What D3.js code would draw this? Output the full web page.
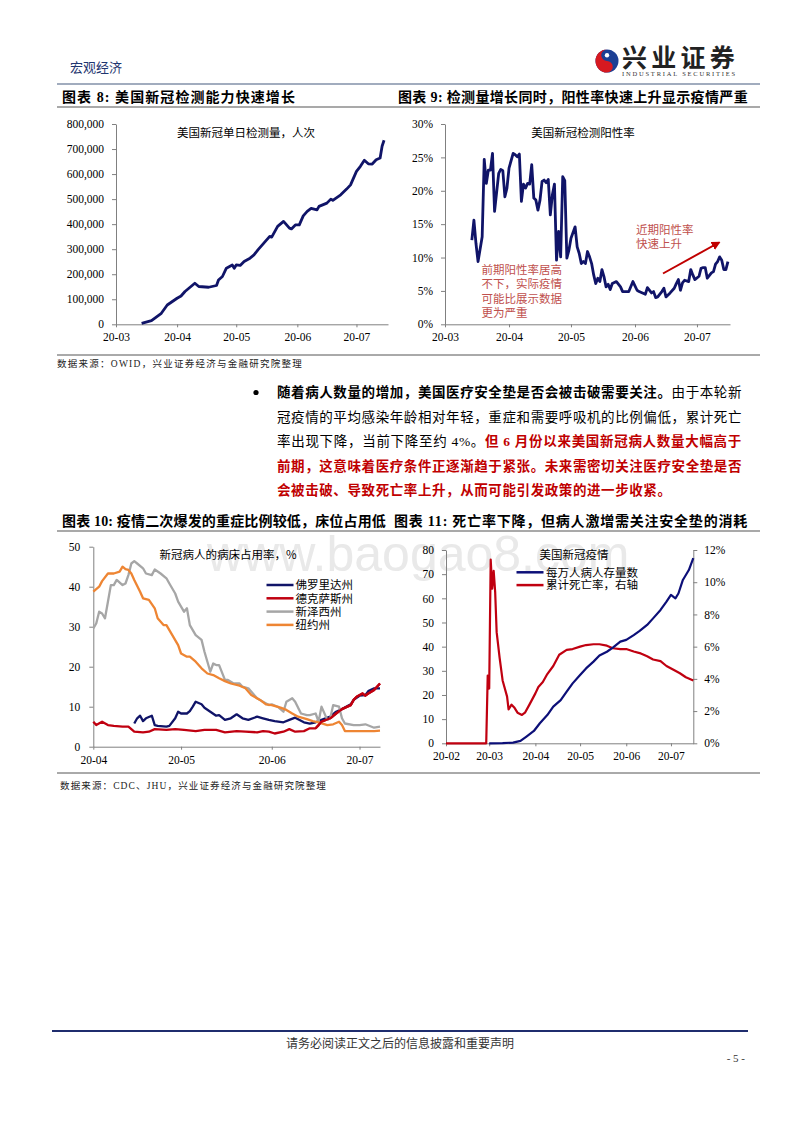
<!DOCTYPE html>
<html>
<head>
<meta charset="utf-8">
<script src="https://cdn.jsdelivr.net/npm/d3@7"></script>
<style>body{margin:0;background:#fff}</style>
</head>
<body>
<script>
// ---- data ----
var months8 = ["03-01","04-01","05-01","06-01","07-01"];
var dailyTests = [["03-14",4000],["03-19",15000],["03-24",44000],["03-27",77000],["04-01",104000],["04-03",113000],["04-05",131000],["04-10",164000],["04-12",151000],["04-17",148000],["04-21",155000],["04-22",177000],["04-24",191000],["04-26",224000],["04-29",237000],["04-30",224000],["05-01",237000],["05-03",235000],["05-05",251000],["05-08",264000],["05-10",277000],["05-12",297000],["05-15",324000],["05-18",351000],["05-19",348000],["05-22",391000],["05-25",411000],["05-28",384000],["05-29",381000],["05-31",397000],["06-02",397000],["06-04",433000],["06-06",451000],["06-08",463000],["06-11",457000],["06-12",471000],["06-16",484000],["06-18",500000],["06-19",495000],["06-23",517000],["06-26",540000],["06-28",557000],["07-01",611000],["07-03",631000],["07-05",655000],["07-07",641000],["07-09",640000],["07-11",657000],["07-13",664000],["07-14",711000],["07-15",735000]];
var testTicks = [0,100000,200000,300000,400000,500000,600000,700000,800000];

var positiveRate = [["03-14",12.6],["03-15",15.6],["03-16",12.1],["03-17",9.4],["03-19",13.1],["03-20",24.7],["03-21",21.1],["03-22",23.1],["03-23",23.1],["03-24",25.6],["03-25",16.9],["03-27",22.6],["03-28",23.2],["03-29",23.0],["03-30",19.1],["03-31",20.4],["04-01",23.4],["04-03",25.6],["04-04",25.4],["04-05",25.1],["04-06",25.5],["04-07",18.4],["04-08",21.0],["04-09",20.4],["04-10",21.1],["04-11",21.0],["04-12",23.9],["04-13",18.9],["04-14",18.6],["04-15",17.1],["04-16",18.6],["04-17",21.4],["04-18",21.6],["04-19",21.2],["04-20",21.7],["04-21",16.4],["04-22",19.4],["04-23",21.0],["04-24",9.6],["04-25",13.9],["04-26",10.1],["04-27",22.1],["04-28",21.5],["04-29",9.9],["04-30",11.1],["05-01",12.9],["05-03",14.6],["05-04",11.6],["05-05",10.6],["05-06",9.1],["05-07",9.4],["05-08",9.1],["05-09",10.9],["05-10",10.1],["05-11",9.1],["05-12",7.4],["05-13",6.1],["05-14",6.9],["05-15",6.4],["05-16",8.2],["05-17",7.1],["05-18",5.6],["05-19",6.0],["05-20",5.2],["05-21",6.1],["05-23",6.4],["05-25",5.6],["05-26",4.9],["05-29",4.9],["05-31",6.4],["06-02",5.1],["06-03",4.9],["06-06",4.5],["06-07",5.5],["06-09",4.7],["06-10",4.9],["06-11",4.0],["06-12",4.1],["06-14",4.9],["06-15",5.4],["06-16",4.1],["06-18",4.7],["06-20",5.4],["06-21",6.1],["06-22",6.7],["06-23",5.1],["06-24",6.2],["06-25",6.6],["06-27",6.4],["06-28",8.2],["06-29",7.4],["06-30",6.7],["07-02",7.2],["07-03",8.4],["07-04",8.5],["07-05",8.5],["07-06",6.9],["07-08",7.7],["07-09",7.9],["07-10",9.0],["07-11",9.4],["07-12",10.1],["07-13",9.6],["07-14",8.2],["07-15",8.2],["07-16",9.4]];
var rateTicks = [0,5,10,15,20,25,30];

var months10 = ["04-01","05-01","06-01","07-01"];
var bedStates = ["佛罗里达州","德克萨斯州","新泽西州","纽约州"];
var bedColors = ["#101468","#c00010","#a6a6a6","#ee8533"];
var floridaBeds = [["04-15",5.8],["04-16",7.1],["04-17",7.75],["04-18",6.4],["04-19",7.1],["04-21",7.75],["04-22",5.4],["04-23",5.2],["04-26",5.0],["04-27",5.2],["04-29",7.1],["04-30",8.75],["05-01",8.3],["05-03",8.3],["05-04",8.9],["05-05",10],["05-06",11.25],["05-08",10.6],["05-09",9.75],["05-11",8.75],["05-13",7.75],["05-14",7.9],["05-16",6.7],["05-18",7.1],["05-20",8.1],["05-22",7.1],["05-24",6.7],["05-27",7.5],["05-29",7.1],["05-31",6.7],["06-02",6.4],["06-05",6.1],["06-07",6.7],["06-09",7.25],["06-12",6.1],["06-14",5.75],["06-16",6.1],["06-18",6.7],["06-21",7.5],["06-23",8.75],["06-25",9.4],["06-28",10.6],["06-29",11.7],["07-01",12.75],["07-03",12.9],["07-04",13.9],["07-06",14.6],["07-08",14.6]];
var texasBeds = [["04-01",6.25],["04-02",5.4],["04-04",6.25],["04-06",5.4],["04-08",5.2],["04-11",5.0],["04-13",5.0],["04-15",3.75],["04-18",3.6],["04-20",3.75],["04-22",4.4],["04-26",4.2],["04-29",4.4],["05-02",4.2],["05-06",3.9],["05-09",4.2],["05-13",4.2],["05-16",3.6],["05-20",3.9],["05-23",3.75],["05-27",3.6],["05-29",3.9],["05-31",3.75],["06-02",3.3],["06-05",3.75],["06-07",4.4],["06-09",3.75],["06-12",3.9],["06-14",4.6],["06-16",4.6],["06-17",5.4],["06-18",6.25],["06-21",7.1],["06-23",8.3],["06-25",9.4],["06-28",10.4],["06-29",11.7],["06-30",12.5],["07-02",13.3],["07-03",12.75],["07-04",13.3],["07-06",14.2],["07-08",15.8]];
var jerseyBeds = [["04-01",29.6],["04-02",30.8],["04-03",33.75],["04-04",33.3],["04-05",32.1],["04-06",36.25],["04-07",40.4],["04-08",40.4],["04-09",41.7],["04-11",40.4],["04-12",40.8],["04-13",42.9],["04-14",45.8],["04-15",46.4],["04-16",45.8],["04-18",44.6],["04-19",43.3],["04-21",42.9],["04-22",44.3],["04-24",43.3],["04-26",42.1],["04-27",40.8],["04-29",38.3],["04-30",36.25],["05-02",33.75],["05-03",34.6],["05-04",30.4],["05-06",27.9],["05-08",26.7],["05-09",23.75],["05-10",21.25],["05-11",18.75],["05-12",20.8],["05-13",20.4],["05-14",20.4],["05-16",16.7],["05-17",16.7],["05-19",15.8],["05-21",15.8],["05-22",15],["05-24",14.6],["05-26",12.9],["05-27",12.1],["05-29",11.25],["05-31",10.4],["06-01",10.6],["06-03",10],["06-05",8.75],["06-06",11.25],["06-08",12.1],["06-09",11.25],["06-11",8.3],["06-13",7.9],["06-14",7.9],["06-16",8.3],["06-17",6.25],["06-18",10],["06-20",6.7],["06-21",7.1],["06-22",10.4],["06-24",10],["06-25",7.1],["06-26",5.8],["06-29",5.4],["07-01",5.4],["07-03",5.6],["07-06",4.75],["07-08",5.0]];
var newYorkBeds = [["04-01",38.75],["04-03",40],["04-04",41.4],["04-06",43.3],["04-08",43.3],["04-10",43.75],["04-11",45],["04-12",44.4],["04-13",44.2],["04-14",43.3],["04-15",41.7],["04-17",38.75],["04-18",37.1],["04-20",36.7],["04-22",34.6],["04-23",32.1],["04-25",30.4],["04-26",30.4],["04-28",27.9],["04-30",25.4],["05-01",23.3],["05-03",22.5],["05-04",22.5],["05-06",21.25],["05-08",19.6],["05-10",18.3],["05-12",17.9],["05-14",17.1],["05-16",16.4],["05-18",15.8],["05-21",15.25],["05-23",14.6],["05-25",12.9],["05-28",11.7],["05-30",10.6],["06-01",10.4],["06-04",9.75],["06-06",9.2],["06-08",8.3],["06-10",7.5],["06-13",6.9],["06-15",6.4],["06-17",6.1],["06-20",5.4],["06-22",5.6],["06-24",6.25],["06-25",5.4],["06-26",3.9],["06-28",3.9],["06-30",3.9],["07-03",3.9],["07-06",3.9],["07-08",4.0]];
var bedTicks = [0,10,20,30,40,50];

var months11 = ["02-01","03-01","04-01","05-01","06-01","07-01"];
var activeCases = [["03-01",0],["03-10",0.05],["03-17",0.3],["03-22",1],["03-26",2.8],["03-31",5.1],["04-04",8.3],["04-09",11.7],["04-13",15.2],["04-18",17.9],["04-22",21.4],["04-26",24.8],["05-01",28.3],["05-05",31],["05-10",33.8],["05-14",36.3],["05-19",37.9],["05-23",39.6],["05-28",42.1],["06-01",42.8],["06-06",44.8],["06-10",46.5],["06-15",49],["06-19",51.7],["06-24",55.2],["06-28",58.6],["07-01",61.4],["07-04",60],["07-06",62],["07-09",67.6],["07-13",71.7],["07-16",76.6]];
var deathRate = [["02-01",0],["02-28",0],["02-29",4.2],["03-01",3.4],["03-02",11.4],["03-03",9.6],["03-04",10.7],["03-05",9.4],["03-06",6.9],["03-08",5.3],["03-10",3.9],["03-13",2.9],["03-14",2.1],["03-16",2.4],["03-18",2.2],["03-20",1.9],["03-23",1.76],["03-25",1.9],["03-28",2.4],["04-01",3.1],["04-03",3.5],["04-06",3.8],["04-09",4.3],["04-13",4.8],["04-17",5.5],["04-22",5.8],["04-26",5.85],["05-01",6.0],["05-05",6.1],["05-10",6.15],["05-14",6.15],["05-19",6.06],["05-23",5.9],["05-28",5.85],["06-01",5.85],["06-06",5.7],["06-10",5.6],["06-15",5.4],["06-19",5.2],["06-24",5.1],["06-28",4.8],["07-03",4.55],["07-07",4.35],["07-11",4.1],["07-16",3.9]];
var caseTicks = [0,10,20,30,40,50,60,70,80];
var deathTicks = [0,2,4,6,8,10,12];

// ---- helpers ----
var parse = d3.timeParse("%Y-%m-%d");
function dt(s) { return parse("2020-" + s); }
var fmtMonth = d3.timeFormat("%y-%m");
var CJK = "'Noto Sans CJK SC', sans-serif";
var SERIF = "'Liberation Serif', 'Noto Sans CJK SC', serif";

var svg = d3.select("body").append("svg")
    .attr("width", 800).attr("height", 1132);
svg.append("rect").attr("width", 800).attr("height", 1132).attr("fill", "#fff");

function txt(x, y, s, size, fam, fill, weight, anchor) {
  return svg.append("text").attr("x", x).attr("y", y).text(s)
    .attr("font-size", size + "px").attr("font-family", fam || CJK)
    .attr("fill", fill || "#000").attr("font-weight", weight || "normal")
    .attr("text-anchor", anchor || "start");
}
// stretch a left-aligned text so it ends at a given width
function fit(sel, w) {
  var len = sel.node().getComputedTextLength();
  var n = sel.text().length;
  sel.attr("letter-spacing", ((w - len) / n) + "px");
  return (w - len) / n;
}
function hline(x1, x2, y, color, wdt) {
  svg.append("line").attr("x1", x1).attr("x2", x2).attr("y1", y).attr("y2", y)
    .attr("stroke", color).attr("stroke-width", wdt);
}
function styleAxis(g) {
  g.attr("font-family", "'Liberation Serif', serif").attr("font-size", 11.5);
  g.select(".domain").attr("stroke", "#808080");
  g.selectAll(".tick line").attr("stroke", "#808080");
  g.selectAll(".tick text").attr("fill", "#000");
}

// watermark
txt(207, 571, "www.baogao8.com", 50, "'Liberation Sans', sans-serif", "#e9e9e9");

// ---- page header ----
txt(70, 72, "宏观经济", 13, CJK, "#1f3670");
var lc = [607, 61], lr = 11.5;
svg.append("circle").attr("cx", lc[0]).attr("cy", lc[1]).attr("r", lr).attr("fill", "#1c3f94");
svg.append("path").attr("fill", "#d71920")
  .attr("d", "M" + lc[0] + "," + (lc[1] - lr) + " A" + lr + "," + lr + " 0 0 0 " + lc[0] + "," + (lc[1] + lr) +
        " A" + lr / 2 + "," + lr / 2 + " 0 0 0 " + lc[0] + "," + lc[1] +
        " A" + lr / 2 + "," + lr / 2 + " 0 0 1 " + lc[0] + "," + (lc[1] - lr) + "Z");
svg.append("circle").attr("cx", lc[0]).attr("cy", lc[1] - lr / 2).attr("r", 2.2).attr("fill", "#fff");
var logo = txt(622, 67, "兴业证券", 25, SERIF, "#222", "bold");
fit(logo, 117);
var logoEn = txt(622, 76, "INDUSTRIAL SECURITIES", 6.5, "'Liberation Serif', serif", "#333");
fit(logoEn, 115);
hline(57, 760, 84, "#8290a8", 1.5);

// ---- chart titles row 1 ----
fit(txt(62, 102, "图表 8: 美国新冠检测能力快速增长", 14, SERIF, "#000", "bold"), 234);
fit(txt(398, 102, "图表 9: 检测量增长同时，阳性率快速上升显示疫情严重", 14, SERIF, "#000", "bold"), 350);
hline(57, 760, 107, "#555", 1.2);

// ---- chart 8: daily tests ----
var x8 = d3.scaleTime().domain([dt("03-01"), dt("07-17")]).range([116, 388]);
var y8 = d3.scaleLinear().domain([0, 800000]).range([324.3, 124]);
svg.append("g").attr("transform", "translate(116,0)")
  .call(d3.axisLeft(y8).tickValues(testTicks).tickFormat(d3.format(",")).tickSize(4).tickPadding(8).tickSizeOuter(0))
  .call(styleAxis);
svg.append("g").attr("transform", "translate(0,324.3)")
  .call(d3.axisBottom(x8).tickValues(months8.map(dt)).tickFormat(fmtMonth).tickSize(3).tickPadding(6).tickSizeOuter(0))
  .call(styleAxis);
svg.append("path").datum(dailyTests)
  .attr("fill", "none").attr("stroke", "#101468").attr("stroke-width", 2.8).attr("stroke-linejoin", "round")
  .attr("d", d3.line().x(function(d) { return x8(dt(d[0])); }).y(function(d) { return y8(d[1]); }));
txt(246, 137, "美国新冠单日检测量，人次", 11.5, CJK, "#000", "normal", "middle");

// ---- chart 9: positive rate ----
var x9 = d3.scaleTime().domain([dt("03-01"), dt("07-17")]).range([445, 730]);
var y9 = d3.scaleLinear().domain([0, 30]).range([324.3, 124]);
svg.append("g").attr("transform", "translate(445,0)")
  .call(d3.axisLeft(y9).tickValues(rateTicks).tickFormat(function(d) { return d + "%"; }).tickSize(4).tickPadding(8).tickSizeOuter(0))
  .call(styleAxis);
svg.append("g").attr("transform", "translate(0,324.3)")
  .call(d3.axisBottom(x9).tickValues(months8.map(dt)).tickFormat(fmtMonth).tickSize(3).tickPadding(6).tickSizeOuter(0))
  .call(styleAxis);
svg.append("path").datum(positiveRate)
  .attr("fill", "none").attr("stroke", "#101468").attr("stroke-width", 2.8).attr("stroke-linejoin", "round")
  .attr("d", d3.line().x(function(d) { return x9(dt(d[0])); }).y(function(d) { return y9(d[1]); }));
txt(583, 137, "美国新冠检测阳性率", 11.5, CJK, "#000", "normal", "middle");

var noteLeft = ["前期阳性率居高", "不下，实际疫情", "可能比展示数据", "更为严重"];
noteLeft.forEach(function(s, i) {
  txt(481.5, 273.5 + i * 14.5, s, 11.5, CJK, "#c0504d");
});
txt(636, 233.5, "近期阳性率", 11.5, CJK, "#c0504d");
txt(636, 247.5, "快速上升", 11.5, CJK, "#c0504d");
svg.append("defs").append("marker").attr("id", "arr")
  .attr("viewBox", "0 0 10 10").attr("refX", 8).attr("refY", 5)
  .attr("markerWidth", 4.5).attr("markerHeight", 4.5).attr("orient", "auto")
  .append("path").attr("d", "M0,0 L10,5 L0,10 Z").attr("fill", "#c00000");
svg.append("line").attr("x1", 663).attr("y1", 273.5).attr("x2", 719).attr("y2", 242.5)
  .attr("stroke", "#c00000").attr("stroke-width", 2).attr("marker-end", "url(#arr)");

// source row 1
hline(57, 760, 355, "#555", 1);
fit(txt(57, 367, "数据来源：OWID，兴业证券经济与金融研究院整理", 9.5, SERIF, "#222"), 246);

// ---- body paragraph ----
svg.append("circle").attr("cx", 256).attr("cy", 392.5).attr("r", 2.6).attr("fill", "#000");
var RED = "#c00000";
var bodyLines = [
  [["随着病人数量的增加，美国医疗安全垫是否会被击破需要关注。", "#000", "bold"], ["由于本轮新", "#000", "normal"]],
  [["冠疫情的平均感染年龄相对年轻，重症和需要呼吸机的比例偏低，累计死亡", "#000", "normal"]],
  [["率出现下降，当前下降至约 4%。", "#000", "normal"], ["但 6 月份以来美国新冠病人数量大幅高于", RED, "bold"]],
  [["前期，这意味着医疗条件正逐渐趋于紧张。未来需密切关注医疗安全垫是否", RED, "bold"]],
  [["会被击破、导致死亡率上升，从而可能引发政策的进一步收紧。", RED, "bold"]]
];
var lastSpacing = 0;
bodyLines.forEach(function(parts, i) {
  var t = svg.append("text").attr("x", 277).attr("y", 397 + i * 24.6)
    .attr("font-size", "13.5px").attr("font-family", SERIF);
  parts.forEach(function(p) {
    t.append("tspan").text(p[0]).attr("fill", p[1]).attr("font-weight", p[2]);
  });
  if (i < bodyLines.length - 1) lastSpacing = fit(t, 465);
  else t.attr("letter-spacing", lastSpacing + "px");
});

// ---- chart titles row 2 ----
fit(txt(62, 526, "图表 10: 疫情二次爆发的重症比例较低，床位占用低", 14, SERIF, "#000", "bold"), 324);
fit(txt(394, 526, "图表 11: 死亡率下降，但病人激增需关注安全垫的消耗", 14, SERIF, "#000", "bold"), 354);
hline(57, 760, 531, "#555", 1.2);

// ---- chart 10: bed occupancy ----
var x10 = d3.scaleTime().domain([dt("04-01"), dt("07-08")]).range([93.3, 380]);
var y10 = d3.scaleLinear().domain([0, 50]).range([746.7, 546.7]);
svg.append("g").attr("transform", "translate(93.3,0)")
  .call(d3.axisLeft(y10).tickValues(bedTicks).tickSize(4).tickPadding(9).tickSizeOuter(0))
  .call(styleAxis);
svg.append("g").attr("transform", "translate(0,746.7)")
  .call(d3.axisBottom(x10).tickValues(months10.map(dt)).tickFormat(fmtMonth).tickSize(3).tickPadding(6).tickSizeOuter(0))
  .call(styleAxis);
var line10 = d3.line().x(function(d) { return x10(dt(d[0])); }).y(function(d) { return y10(d[1]); });
[floridaBeds, texasBeds, jerseyBeds, newYorkBeds].forEach(function(s, i) {
  svg.append("path").datum(s).attr("fill", "none").attr("stroke", bedColors[i])
    .attr("stroke-width", 2.3).attr("stroke-linejoin", "round").attr("d", line10);
});
// bring Texas back on top where it meets the others
svg.append("path").datum(texasBeds.slice(-14)).attr("fill", "none").attr("stroke", bedColors[1])
  .attr("stroke-width", 2.3).attr("stroke-linejoin", "round").attr("d", line10);
txt(228, 558.5, "新冠病人的病床占用率，%", 11.5, CJK, "#000", "normal", "middle");
bedStates.forEach(function(s, i) {
  var yy = 585 + i * 13.3;
  svg.append("line").attr("x1", 266.5).attr("x2", 293.5).attr("y1", yy).attr("y2", yy)
    .attr("stroke", bedColors[i]).attr("stroke-width", 2.5);
  txt(295.5, yy + 4.2, s, 11.5, CJK, "#000");
});

// ---- chart 11: active cases and death rate ----
var x11 = d3.scaleTime().domain([dt("02-01"), dt("07-16")]).range([446, 693.3]);
var yL = d3.scaleLinear().domain([0, 80]).range([743.3, 550]);
var yR = d3.scaleLinear().domain([0, 12]).range([743.3, 550]);
svg.append("g").attr("transform", "translate(446,0)")
  .call(d3.axisLeft(yL).tickValues(caseTicks).tickSize(4).tickPadding(8).tickSizeOuter(0))
  .call(styleAxis);
svg.append("g").attr("transform", "translate(693.3,0)")
  .call(d3.axisRight(yR).tickValues(deathTicks).tickFormat(function(d) { return d + "%"; }).tickSize(4).tickPadding(7).tickSizeOuter(0))
  .call(styleAxis);
svg.append("g").attr("transform", "translate(0,743.3)")
  .call(d3.axisBottom(x11).tickValues(months11.map(dt)).tickFormat(fmtMonth).tickSize(3).tickPadding(6).tickSizeOuter(0))
  .call(styleAxis);
svg.append("path").datum(deathRate).attr("fill", "none").attr("stroke", "#c00010")
  .attr("stroke-width", 2.2).attr("stroke-linejoin", "round")
  .attr("d", d3.line().x(function(d) { return x11(dt(d[0])); }).y(function(d) { return yR(d[1]); }));
svg.append("path").datum(activeCases).attr("fill", "none").attr("stroke", "#0c0f78")
  .attr("stroke-width", 2.2).attr("stroke-linejoin", "round")
  .attr("d", d3.line().x(function(d) { return x11(dt(d[0])); }).y(function(d) { return yL(d[1]); }));
txt(574, 558.5, "美国新冠疫情", 11.5, CJK, "#000", "normal", "middle");
[["每万人病人存量数", "#0c0f78"], ["累计死亡率，右轴", "#c00010"]].forEach(function(p, i) {
  var yy = 572.3 + i * 12.8;
  svg.append("line").attr("x1", 516.5).attr("x2", 543.5).attr("y1", yy).attr("y2", yy)
    .attr("stroke", p[1]).attr("stroke-width", 2.5);
  txt(546, yy + 4.2, p[0], 11.5, CJK, "#000");
});

// source row 2
hline(57, 760, 773, "#555", 1);
fit(txt(60, 789, "数据来源：CDC、JHU，兴业证券经济与金融研究院整理", 9.5, SERIF, "#222"), 267);

// ---- footer ----
hline(52, 748, 1031, "#1f2d6e", 2);
txt(400, 1048, "请务必阅读正文之后的信息披露和重要声明", 12, CJK, "#333", "normal", "middle");
txt(745, 1062, "- 5 -", 11, "'Liberation Serif', serif", "#333", "normal", "end");
</script>
</body>
</html>
